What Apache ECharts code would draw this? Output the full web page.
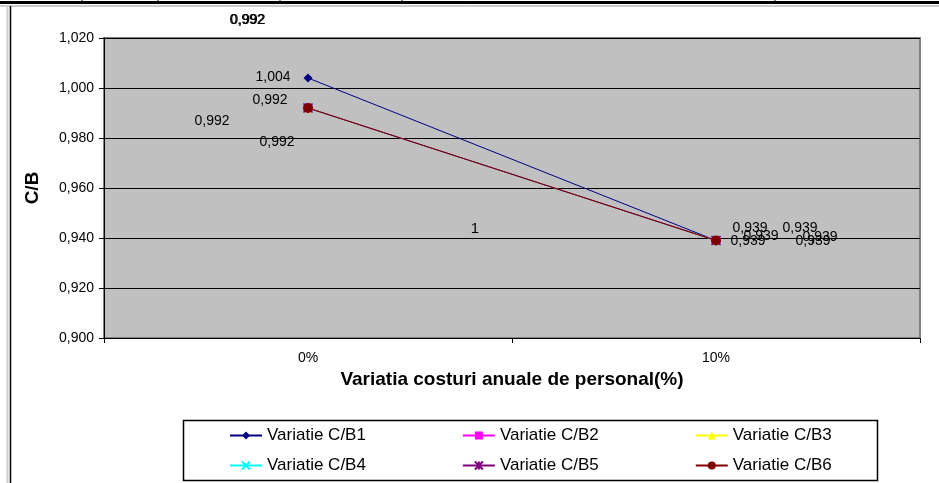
<!DOCTYPE html>
<html>
<head>
<meta charset="utf-8">
<script src="https://cdn.jsdelivr.net/npm/echarts@6/dist/echarts.min.js"></script>
<style>
  html, body { margin: 0; padding: 0; background: #fff; }
  #chart { width: 939px; height: 483px; }
</style>
</head>
<body>
<div id="chart"></div>
<script>
// date
const categories = ['0%', '10%']
const yTicks = [0.900, 0.920, 0.940, 0.960, 0.980, 1.000, 1.020]
const seriesNames = ['Variatie C/B1', 'Variatie C/B2', 'Variatie C/B3', 'Variatie C/B4', 'Variatie C/B5', 'Variatie C/B6']
const cb1 = [1.004, 0.939]
const cb2 = [0.992, 0.939]
const cb3 = [0.992, 0.939]
const cb4 = [0.992, 0.939]
const cb5 = [0.992, 0.939]
const cb6 = [0.992, 0.939]
const allValues = [cb1, cb2, cb3, cb4, cb5, cb6]

// aspect
const colors = ['#000080', '#ff00ff', '#ffff00', '#00ffff', '#800080', '#800000']
const crossPath = 'path://M0,0L10,10M10,0L0,10'
const starPath = 'path://M5,0L5,10M0,0L10,10M10,0L0,10'
const symbols = ['diamond', 'rect', 'triangle', crossPath, starPath, 'circle']
const symbolSizes = [9, 9, 9, 9, 9, 10]
// pozitia etichetelor (decalaj fata de punct)
const labelOffsets = [
    [[-35, -1], [34, -12]],
    [[-38, -8], [32, 1]],
    [[-96, 13], [45, -4]],
    [[-31, 34], [84, -12]],
    [[-61, -88], [97, 1]],
    [[-60, -88], [104, -3]]
]

const FONT = 'Liberation Sans, Arial, sans-serif'
const fmt = v => v.toFixed(3).replace('.', ',')

const chart = echarts.init(document.getElementById('chart'))

const series = seriesNames.map((name, s) => ({
    name,
    type: 'line',
    data: allValues[s].map((v, i) => ({
        value: v,
        label: { offset: labelOffsets[s][i] }
    })),
    symbol: symbols[s],
    symbolSize: symbolSizes[s],
    showAllSymbol: true,
    lineStyle: { color: colors[s], width: 1 },
    itemStyle: {
        color: colors[s],
        borderColor: colors[s],
        borderWidth: s >= 3 && s <= 4 ? 1.5 : 0
    },
    label: {
        show: true,
        position: 'inside',
        color: '#000',
        fontFamily: FONT,
        fontSize: 14,
        formatter: p => fmt(p.value)
    },
    emphasis: { disabled: true },
    animation: false,
    z: 2 + s
}))

const legendCommon = {
    itemWidth: 32,
    itemHeight: 10,
    itemGap: 96,
    textStyle: { fontFamily: FONT, fontSize: 17, color: '#000' },
    selectedMode: false
}

const option = {
    backgroundColor: '#fff',
    animation: false,
    grid: {
        left: 104, right: 19, top: 38, bottom: 145,
        show: true,
        backgroundColor: '#c0c0c0',
        borderColor: '#808080',
        borderWidth: 2
    },
    xAxis: {
        type: 'category',
        data: categories,
        boundaryGap: true,
        name: 'Variatia costuri anuale de personal(%)',
        nameLocation: 'middle',
        nameGap: 31,
        nameTextStyle: { fontFamily: FONT, fontSize: 19, fontWeight: 'bold', color: '#000' },
        axisLine: { lineStyle: { color: '#000', width: 1 } },
        axisTick: { show: true, length: 5, lineStyle: { color: '#000' } },
        axisLabel: { fontFamily: FONT, fontSize: 14, color: '#000', margin: 13 },
        splitLine: { show: false }
    },
    yAxis: {
        type: 'value',
        min: yTicks[0],
        max: yTicks[yTicks.length - 1],
        interval: 0.02,
        name: 'C/B',
        nameLocation: 'middle',
        nameGap: 62,
        nameTextStyle: { fontFamily: FONT, fontSize: 19, fontWeight: 'bold', color: '#000' },
        axisLine: { show: true, lineStyle: { color: '#000', width: 1 } },
        axisTick: { show: true, length: 5, lineStyle: { color: '#000' } },
        axisLabel: { fontFamily: FONT, fontSize: 14, color: '#000', margin: 10, formatter: v => fmt(v) },
        splitLine: { show: true, lineStyle: { color: '#000', width: 1 } }
    },
    legend: [
        Object.assign({}, legendCommon, {
            data: seriesNames.slice(0, 3),
            left: 229, top: 427, padding: 0
        }),
        Object.assign({}, legendCommon, {
            data: seriesNames.slice(3),
            left: 229, top: 457, padding: 0
        })
    ],
    graphic: [
        // cadrul legendei
        { type: 'rect', shape: { x: 183.5, y: 420.5, width: 694, height: 60 },
          style: { fill: 'none', stroke: '#000', lineWidth: 1.5 }, z: -1 },
        // eticheta ratacita
        { type: 'text', x: 475, y: 229,
          style: { text: '1', fill: '#000', font: '15px ' + FONT, textAlign: 'center', textVerticalAlign: 'middle' } },
        // linii de tabel sus si chenar stanga
        { type: 'line', shape: { x1: 0, y1: 2.5, x2: 939, y2: 2.5 }, style: { stroke: '#000', lineWidth: 3 } },
        { type: 'line', shape: { x1: 0, y1: 6, x2: 939, y2: 6 }, style: { stroke: '#999', lineWidth: 1 } },
        { type: 'line', shape: { x1: 82, y1: 0, x2: 82, y2: 4 }, style: { stroke: '#000', lineWidth: 1 } },
        { type: 'line', shape: { x1: 158, y1: 0, x2: 158, y2: 4 }, style: { stroke: '#000', lineWidth: 1 } },
        { type: 'line', shape: { x1: 280, y1: 0, x2: 280, y2: 4 }, style: { stroke: '#000', lineWidth: 1 } },
        { type: 'line', shape: { x1: 402, y1: 0, x2: 402, y2: 4 }, style: { stroke: '#000', lineWidth: 1 } },
        { type: 'line', shape: { x1: 775, y1: 0, x2: 775, y2: 4 }, style: { stroke: '#000', lineWidth: 1 } },
        { type: 'line', shape: { x1: 7.5, y1: 6, x2: 7.5, y2: 483 }, style: { stroke: '#ccc', lineWidth: 2 } },
        { type: 'line', shape: { x1: 10.5, y1: 6, x2: 10.5, y2: 483 }, style: { stroke: '#000', lineWidth: 1.5 } }
    ],
    series
}

chart.setOption(option)
</script>
</body>
</html>
